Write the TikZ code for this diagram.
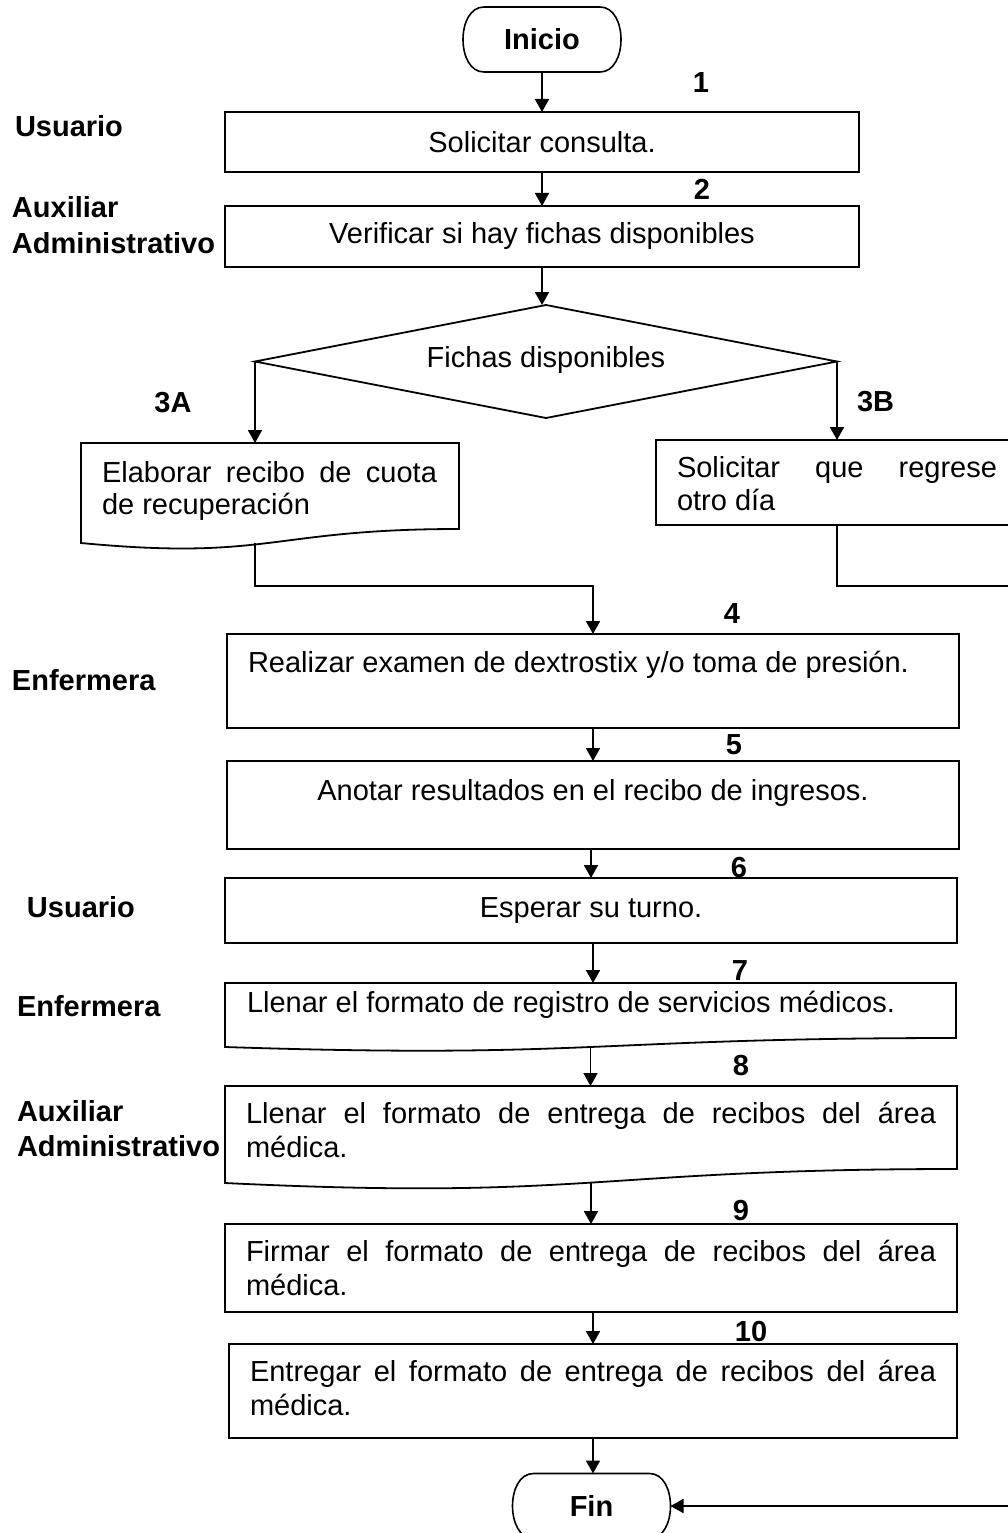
\documentclass[tikz,border=0pt]{standalone}
\usepackage{fontspec}
\setmainfont{Liberation Sans}
\usetikzlibrary{arrows.meta,shapes.geometric}
\begin{document}
\begin{tikzpicture}[x=1pt,y=-1pt,
  every node/.style={inner sep=0pt, outer sep=0pt},
  txt/.style={font=\fontsize{29}{34}\selectfont},
  lbl/.style={font=\fontsize{29}{34}\selectfont\bfseries},
  box/.style={draw, line width=1.8pt},
  term/.style={rectangle, minimum width=158pt, minimum height=65pt, font=\fontsize{29}{34}\selectfont\bfseries},
  termline/.style={line width=1.6pt},
  flow/.style={line width=1.8pt, -{Triangle[length=13pt,width=14pt]}},
  jtext/.style={txt, align=justify, anchor=base west}
]
\useasboundingbox (0,0) rectangle (1008,1533);

% terminals
\node[term] (inicio) at (542,39.5) {Inicio};
\draw[termline] ([xshift=21pt]inicio.north west) -- ([xshift=-21pt]inicio.north east)
  .. controls ([xshift=7pt]inicio.north east) and ([xshift=7pt]inicio.south east) .. ([xshift=-21pt]inicio.south east)
  -- ([xshift=21pt]inicio.south west)
  .. controls ([xshift=-7pt]inicio.south west) and ([xshift=-7pt]inicio.north west) .. cycle;
\node[term] (fin) at (591.5,1506) {Fin};
\draw[termline] ([xshift=21pt]fin.north west) -- ([xshift=-21pt]fin.north east)
  .. controls ([xshift=7pt]fin.north east) and ([xshift=7pt]fin.south east) .. ([xshift=-21pt]fin.south east)
  -- ([xshift=21pt]fin.south west)
  .. controls ([xshift=-7pt]fin.south west) and ([xshift=-7pt]fin.north west) .. cycle;

% step boxes
\node[box, txt, minimum width=634pt, minimum height=60pt] (b1) at (542,142) {Solicitar consulta.};
\node[box, txt, minimum width=634pt, minimum height=61pt] (b2) at (542,236.5) {Verificar si hay fichas disponibles};
\node[box, draw, diamond, aspect=5.15, minimum width=582pt, minimum height=113pt] (dec) at (546,361.5) {};
\node[txt, anchor=base] (dect) at (546,367) {Fichas disponibles};

% 3A document
\draw[box] (81,443) -- (459,443) -- (459,529) .. controls (270,529) and (270,561) .. (81,543) coordinate[pos=0.5] (d3a) -- cycle;
\coordinate (a3top) at (255,443);
\node[jtext, text width=335pt, font=\fontsize{29}{32}\selectfont] (t3a) at (102,482) {Elaborar recibo de cuota\linebreak de recuperación};

% 3B box
\node[box, minimum width=362pt, minimum height=85pt] (b3b) at (837,482.5) {};
\node[jtext, text width=320pt, font=\fontsize{29}{33}\selectfont] (t3b) at (677,477) {Solicitar que regrese\linebreak otro día};

% 4, 5, 6
\node[box, minimum width=732pt, minimum height=94pt] (b4) at (593,681) {};
\node[txt, anchor=base west] (t4) at (248,672) {Realizar examen de dextrostix y/o toma de presión.};
\node[box, minimum width=732pt, minimum height=88pt] (b5) at (593,805) {};
\node[txt, anchor=base] (t5) at (593,800) {Anotar resultados en el recibo de ingresos.};
\node[box, txt, minimum width=732pt, minimum height=65pt] (b6) at (591,910.5) {Esperar su turno.};

% 7 document
\draw[box] (225,983) -- (956,983) -- (956,1038) .. controls (590.5,1038) and (590.5,1059) .. (225,1047) coordinate[pos=0.5] (d7) -- cycle;
\coordinate (b7top) at (593,983);
\node[txt, anchor=base west] (t7) at (247,1012) {Llenar el formato de registro de servicios médicos.};

% 8 document
\draw[box] (225,1086) -- (957,1086) -- (957,1169) .. controls (591,1169) and (591,1200.6) .. (225,1183) coordinate[pos=0.5] (d8) -- cycle;
\coordinate (b8top) at (591,1086);
\node[jtext, text width=690pt] (t8) at (246,1123) {Llenar el formato de entrega de recibos del área\linebreak médica.};

% 9, 10
\node[box, minimum width=732pt, minimum height=88pt] (b9) at (591,1268) {};
\node[jtext, text width=690pt] (t9) at (246,1261) {Firmar el formato de entrega de recibos del área\linebreak médica.};
\node[box, minimum width=728pt, minimum height=94pt] (b10) at (593,1391) {};
\node[jtext, text width=686pt] (t10) at (250,1381) {Entregar el formato de entrega de recibos del área\linebreak médica.};

% junction coordinates
\coordinate (j4) at (593,586);
\coordinate (r1) at (1018,586);

% connectors
\draw[flow] (inicio.south) -- (b1.north);
\draw[flow] (b1) -- (b2);
\draw[flow] (b2.south) -- (b2.south |- dec.north);
\draw[flow] (dec.west) -- (a3top);
\draw[flow] (dec.east) -- (b3b.north);
\draw[flow] (dec.west |- d3a) |- (j4) -- (b4.north);
\draw[flow] (b3b.south) |- (r1) |- (fin.east);
\draw[flow] (b4) -- (b5);
\draw[flow] (b6.north |- b5.south) -- (b6.north);
\draw[flow] (b6.south -| b7top) -- (b7top);
\draw[flow] (d7) -- (d7 |- b8top);
\draw[flow] (d8) -- (d8 |- b9.north);
\draw[flow] (b10.north |- b9.south) -- (b10.north);
\draw[flow] (b10.south) -- (b10.south |- fin.north);

% lane labels
\node[lbl, anchor=base west] (l1) at (15,137) {Usuario};
\node[lbl, anchor=base west] (l2a) at (12,218) {Auxiliar};
\node[lbl, anchor=base west] (l2b) at (12,253) {Administrativo};
\node[lbl, anchor=base west] (l3) at (12,690) {Enfermera};
\node[lbl, anchor=base west] (l4) at (27,917) {Usuario};
\node[lbl, anchor=base west] (l5) at (17,1016) {Enfermera};
\node[lbl, anchor=base west] (l6a) at (17,1121) {Auxiliar};
\node[lbl, anchor=base west] (l6b) at (17,1156) {Administrativo};

% step numbers
\node[lbl, anchor=base] (n1) at (701,93) {1};
\node[lbl, anchor=base] (n2) at (702,200) {2};
\node[lbl, anchor=base] (n3a) at (173,412) {3A};
\node[lbl, anchor=base west] (n3b) at (857,411) {3B};
\node[lbl, anchor=base] (n4) at (732,623) {4};
\node[lbl, anchor=base] (n5) at (734,754) {5};
\node[lbl, anchor=base] (n6) at (739,877) {6};
\node[lbl, anchor=base] (n7) at (740,980) {7};
\node[lbl, anchor=base] (n8) at (741,1075) {8};
\node[lbl, anchor=base] (n9) at (741,1220) {9};
\node[lbl, anchor=base] (n10) at (751,1341) {10};
\end{tikzpicture}
\end{document}
